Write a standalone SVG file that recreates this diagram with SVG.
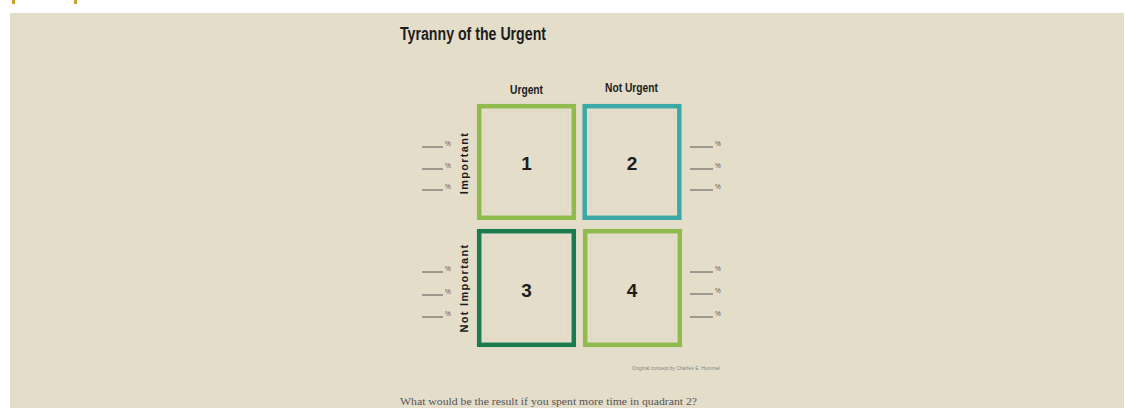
<svg xmlns="http://www.w3.org/2000/svg" width="1125" height="408" viewBox="0 0 1125 408">
<style>
.hd{font-family:"Liberation Sans",Arial,sans-serif;font-weight:bold;fill:#1c1c1c}
.num{font-family:"Liberation Sans",Arial,sans-serif;font-weight:bold;font-size:19px;fill:#1c1c1c;text-anchor:middle}
.side{font-family:"Liberation Sans",Arial,sans-serif;font-weight:bold;font-size:11px;fill:#1c1c1c;text-anchor:middle;letter-spacing:1.3px}
.blank{stroke:#555;stroke-width:1}
.pct{font-family:"Liberation Sans",Arial,sans-serif;font-size:6.5px;fill:#555}
.box{fill:none;stroke-width:4.5}
.inner{fill:none;stroke:#d9d2bf;stroke-width:0.6}
</style>
<rect x="0" y="0" width="1125" height="408" fill="#ffffff"/>
<rect x="12" y="0" width="3" height="4" fill="#c9a12a"/>
<rect x="74" y="0" width="3" height="4" fill="#c9a12a"/>
<rect x="10" y="13" width="1114" height="395" fill="#e4ddca"/>
<text class="hd" x="400" y="40" font-size="18" textLength="146" lengthAdjust="spacingAndGlyphs">Tyranny of the Urgent</text>
<text class="hd" x="510" y="94" font-size="13" textLength="33" lengthAdjust="spacingAndGlyphs">Urgent</text>
<text class="hd" x="605" y="92" font-size="13" textLength="53" lengthAdjust="spacingAndGlyphs">Not Urgent</text>
<g id="q1">
<rect class="box" x="479.2" y="106.2" width="94.6" height="111.6" stroke="#8fba4c"/>
<rect class="inner" x="485" y="112" width="83" height="100"/>
<text class="num" x="526.5" y="170">1</text>
</g>
<g id="q2">
<rect class="box" x="584.7" y="106.2" width="94.6" height="111.6" stroke="#3ca9a7"/>
<rect class="inner" x="591" y="112" width="83" height="100"/>
<text class="num" x="632" y="170">2</text>
</g>
<g id="q3">
<rect class="box" x="479.2" y="231.2" width="94.6" height="113.6" stroke="#1b7c52"/>
<rect class="inner" x="485" y="237" width="83" height="102"/>
<text class="num" x="526.5" y="297">3</text>
</g>
<g id="q4">
<rect class="box" x="585.2" y="231.2" width="94.6" height="113.6" stroke="#8fba4c"/>
<rect class="inner" x="591" y="237" width="83" height="102"/>
<text class="num" x="632" y="297">4</text>
</g>
<g id="labels">
<text class="side" transform="translate(468 163) rotate(-90)">Important</text>
<text class="side" transform="translate(468 288) rotate(-90)">Not Important</text>
</g>
<g id="blanks">
<line class="blank" x1="422" y1="147" x2="443" y2="147"/><text class="pct" x="445" y="146">%</text>
<line class="blank" x1="422" y1="169" x2="443" y2="169"/><text class="pct" x="445" y="168">%</text>
<line class="blank" x1="422" y1="190" x2="443" y2="190"/><text class="pct" x="445" y="189">%</text>
<line class="blank" x1="690" y1="147" x2="713" y2="147"/><text class="pct" x="715" y="146">%</text>
<line class="blank" x1="690" y1="169" x2="713" y2="169"/><text class="pct" x="715" y="168">%</text>
<line class="blank" x1="690" y1="190" x2="713" y2="190"/><text class="pct" x="715" y="189">%</text>
<line class="blank" x1="422" y1="272" x2="443" y2="272"/><text class="pct" x="445" y="271">%</text>
<line class="blank" x1="422" y1="295" x2="443" y2="295"/><text class="pct" x="445" y="294">%</text>
<line class="blank" x1="422" y1="317" x2="443" y2="317"/><text class="pct" x="445" y="316">%</text>
<line class="blank" x1="690" y1="272" x2="713" y2="272"/><text class="pct" x="715" y="271">%</text>
<line class="blank" x1="690" y1="294" x2="713" y2="294"/><text class="pct" x="715" y="293">%</text>
<line class="blank" x1="690" y1="317" x2="713" y2="317"/><text class="pct" x="715" y="316">%</text>
</g>
<text x="632" y="370" font-family="Liberation Sans,Arial,sans-serif" font-size="4.5" fill="#8a8578" textLength="88" lengthAdjust="spacingAndGlyphs">Original concept by Charles E. Hummel</text>
<text x="400" y="405" font-family="Liberation Serif,Times New Roman,serif" font-size="11" fill="#555" textLength="297" lengthAdjust="spacingAndGlyphs">What would be the result if you spent more time in quadrant 2?</text>
</svg>
